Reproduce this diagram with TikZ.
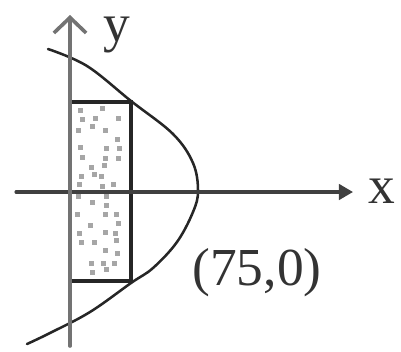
\documentclass[tikz,border=0pt]{standalone}
\usepackage{fontspec}
\setmainfont{Liberation Serif}
\usetikzlibrary{arrows.meta}

\begin{document}
\begin{tikzpicture}[x=0.025cm,y=-0.025cm,line cap=round,
  font=\fontsize{38}{42}\selectfont,
  edge/.style={black!85,line width=2.4pt},
  curve/.style={black!85,line width=1.8pt},
  speck/.style={fill=gray!70}]
\useasboundingbox (0,0) rectangle (401,351);
% specks in the strip
\pgfmathsetseed{11}
\foreach \r in {0,...,17}
  \foreach \c in {0,...,3}{
    \pgfmathsetmacro{\keep}{rand}
    \pgfmathsetmacro{\dx}{78+12*\c+rand*3}
    \pgfmathsetmacro{\dy}{107+9.5*\r+rand*2}
    \ifdim\keep pt>-0.2pt
      \fill[speck] (\dx,\dy) rectangle ++(5,5);
    \fi
  }
% strip
\draw[edge] (70,102) -| (131,281) -- (70,281);
% curve
\draw[curve] plot[smooth,tension=0.6] coordinates {(48,49) (87,66) (131,101)
  (173,134) (193,163) (198,191) (193,212) (177,242) (153,268) (131,283)
  (90,312) (50,333) (27,344)};
% axes
\draw[black!75,line width=2.2pt,-{Triangle[length=10pt,width=11pt]}] (16,192) -- (353,192);
\draw[black!55,line width=2.6pt,-{Straight Barb[length=11pt,width=23pt]}] (70,346) -- (70,15);
\node[anchor=base,black!80] (ylab) at (117,41) {y};
\node[anchor=base,black!80] (xlab) at (382,203) {x};
\node[anchor=base,black!80] (vertex) at (257,285) {(75,0)};
\end{tikzpicture}
\end{document}
